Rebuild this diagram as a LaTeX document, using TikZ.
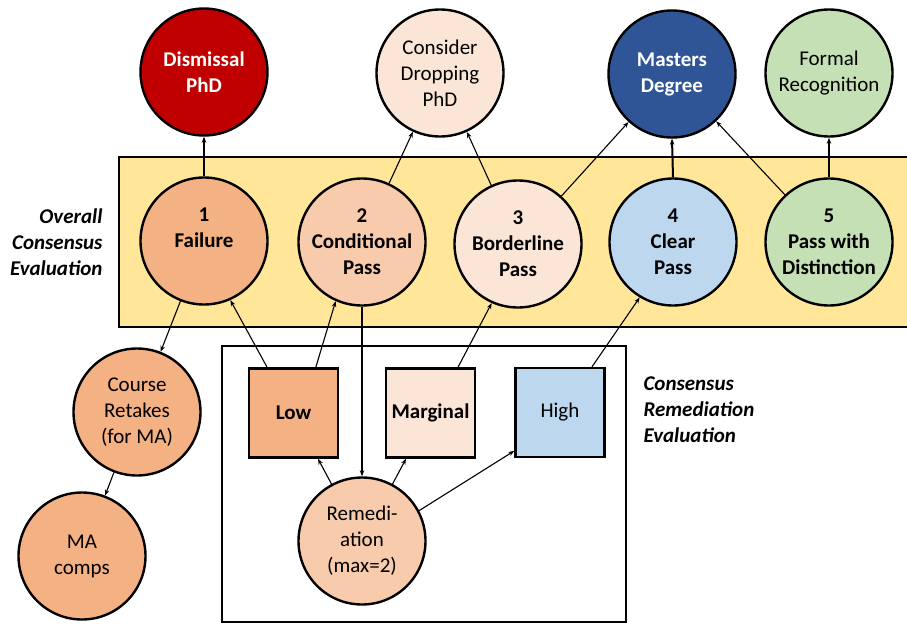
\documentclass[tikz,border=0pt]{standalone}
\usepackage{fontspec}
\setmainfont{Carlito}
\usetikzlibrary{arrows.meta}
\definecolor{cred}{HTML}{C00000}
\definecolor{cblue}{HTML}{2F5597}
\definecolor{cgreen}{HTML}{C5E0B4}
\definecolor{corange}{HTML}{F4B183}
\definecolor{cpeach}{HTML}{F8CBAD}
\definecolor{clight}{HTML}{FBE5D6}
\definecolor{clblue}{HTML}{BDD7EE}
\definecolor{cyellow}{HTML}{FFE699}
\begin{document}
\begin{tikzpicture}[x=1pt,y=-1pt,
  every node/.style={font=\fontsize{21}{26}\selectfont, align=center, text=black},
  circ/.style={circle, draw=black, line width=2.4pt, minimum size=127pt, inner sep=0pt},
  sq/.style={rectangle, draw=black, line width=2.4pt, minimum width=89pt, minimum height=89pt, inner sep=0pt},
  conn/.style={-{Stealth[length=6pt,width=4.5pt]}, line width=1.1pt},
  heavy/.style={-{Stealth[length=6pt,width=4.5pt]}, line width=2pt},
  sidelabel/.style={font=\fontsize{21}{26}\selectfont\bfseries\itshape}
]
\useasboundingbox (0,0) rectangle (907,624);
\draw[fill=cyellow, line width=2pt] (119,157) rectangle (910,327);
\draw[line width=1.6pt] (222,346) rectangle (626,622);

% top row
\node[circ, fill=cred, text=white, font=\fontsize{21}{26}\selectfont\bfseries] (dis) at (204,72) {Dismissal\\PhD};
\node[circ, fill=clight] (cons) at (440,73) {Consider\\Dropping\\PhD};
\node[circ, fill=cblue, text=white, font=\fontsize{21}{26}\selectfont\bfseries] (mas) at (672,74) {Masters\\Degree};
\node[circ, fill=cgreen] (form) at (829,73) {Formal\\Recognition};

% middle row
\node[circ, fill=corange, font=\fontsize{21}{26}\selectfont\bfseries] (fail) at (204,241) {1\\Failure\\\mbox{}};
\node[circ, fill=cpeach, font=\fontsize{21}{26}\selectfont\bfseries] (cond) at (362,242) {2\\Conditional\\Pass};
\node[circ, fill=clight, font=\fontsize{21}{26}\selectfont\bfseries] (bord) at (518,244) {3\\Borderline\\Pass};
\node[circ, fill=clblue, font=\fontsize{21}{26}\selectfont\bfseries] (clear) at (673,242) {4\\Clear\\Pass};
\node[circ, fill=cgreen, font=\fontsize{21}{26}\selectfont\bfseries] (dist) at (829,242) {5\\Pass with\\Distinction};

% lower
\node[circ, fill=corange] (course) at (137,412) {Course\\Retakes\\(for MA)};
\node[circ, fill=corange] (macomp) at (82,556) {MA\\comps};
\node[circ, fill=cpeach] (rem) at (362,541) {Remedi-\\ation\\(max=2)};
\node[sq, fill=corange, font=\fontsize{21}{26}\selectfont\bfseries] (low) at (293.5,413) {Low};
\node[sq, fill=clight, font=\fontsize{21}{26}\selectfont\bfseries] (marg) at (430.5,413) {Marginal};
\node[sq, fill=clblue] (high) at (560,412.5) {High};

% side labels
\node[sidelabel, align=right, anchor=east] (lab1) at (106,242) {Overall\\Consensus\\Evaluation};
\node[sidelabel, align=left, anchor=west] (lab2) at (640,410) {Consensus\\Remediation\\Evaluation};

% connectors
\draw[heavy] (fail.north) -- (dis.south);
\draw[conn] (cond) -- (cons);
\draw[conn] (bord) -- (cons);
\draw[conn] (bord) -- (mas);
\draw[heavy] (clear.north) -- (mas.south);
\draw[conn] (dist) -- (mas);
\draw[heavy] (dist.north) -- (form.south);
\draw[conn] (fail) -- (course);
\draw[conn] (course) -- (macomp);
\draw[conn] (low.120) -- (fail.-66);
\draw[conn] (low.64) -- (cond.-114);
\draw[conn] (cond.south) -- (rem.north);
\draw[conn] (rem) -- (low);
\draw[conn] (rem) -- (marg);
\draw[conn] (rem.28) -- (high.-140);
\draw[conn] (marg.59) -- (bord.-114);
\draw[conn] (high.55) -- (clear.-121);
\end{tikzpicture}
\end{document}
